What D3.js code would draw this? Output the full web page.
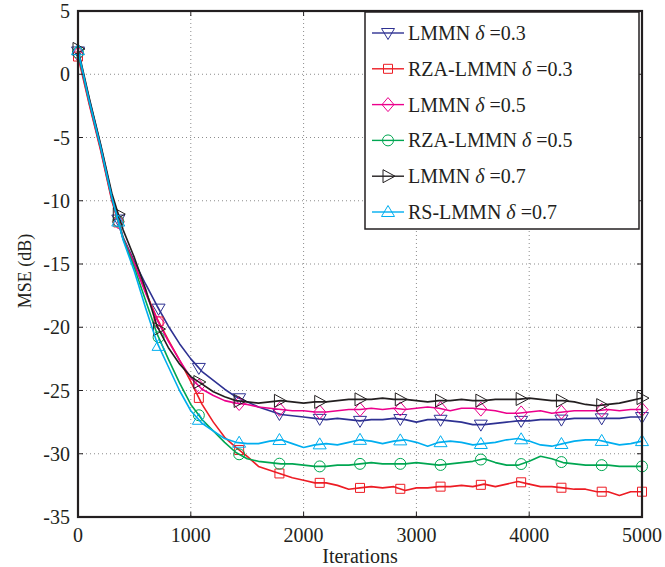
<!DOCTYPE html>
<html lang="en">
<head>
<meta charset="utf-8">
<title>MSE learning curves</title>
<script src="https://d3js.org/d3.v7.min.js"></script>
<style type="text/css">
body {
	margin: 0;
	background: #fff;
	font-family: "Liberation Serif", "Times New Roman", serif;
}
.tick-label {
	font-size: 20px;
	fill: #231f20;
}
.grid line {
	stroke: #8c8c8c;
	stroke-width: 1;
	stroke-dasharray: 1,3;
}
</style>
</head>
<body>
<script type="text/javascript">

// iterations sampled every 100 (0 .. 5000)
const iterations = d3.range(0, 5001, 100);

// MSE (dB)
const lmmn03 = [1.8, -2.0, -5.6, -9.6, -12.9, -14.8, -16.6, -18.3, -19.9, -21.3, -22.5, -23.5, -24.2, -24.9, -25.5, -25.9, -26.3, -26.6, -26.9, -27.0,
  -27.1, -27.2, -27.3, -27.2, -27.3, -27.4, -27.3, -27.3, -27.2, -27.3, -27.5, -27.3, -27.3, -27.4, -27.5, -27.7, -27.7, -27.6, -27.5, -27.4,
  -27.4, -27.3, -27.3, -27.3, -27.2, -27.2, -27.2, -27.2, -27.2, -27.1, -27.1];
const rza03 = [1.4, -2.4, -6.0, -10.0, -13.0, -15.0, -17.2, -19.3, -21.0, -22.6, -24.3, -26.1, -27.5, -28.7, -29.5, -30.2, -31.0, -31.3, -31.6, -31.9,
  -32.1, -32.3, -32.3, -32.5, -32.8, -32.7, -32.6, -32.7, -32.6, -32.9, -32.7, -32.7, -32.6, -32.6, -32.5, -32.6, -32.4, -32.6, -32.4, -32.2,
  -32.4, -32.6, -32.6, -32.7, -32.8, -32.8, -33.0, -33.0, -33.3, -33.0, -33.0];
const lmmn05 = [1.6, -2.3, -5.9, -9.9, -13.0, -15.0, -17.3, -19.4, -21.1, -22.6, -24.0, -24.9, -25.4, -25.8, -26.0, -26.1, -26.3, -26.4, -26.5, -26.6,
  -26.6, -26.7, -26.7, -26.6, -26.5, -26.5, -26.4, -26.5, -26.4, -26.5, -26.4, -26.3, -26.4, -26.6, -26.4, -26.4, -26.5, -26.6, -26.8, -26.8,
  -26.7, -26.6, -26.8, -26.7, -26.6, -26.6, -26.6, -26.5, -26.6, -26.5, -26.5];
const rza05 = [1.7, -2.2, -5.8, -9.8, -13.0, -15.3, -17.9, -20.5, -22.5, -24.4, -26.1, -27.3, -28.2, -29.1, -29.9, -30.4, -30.6, -30.7, -30.8, -30.8,
  -30.9, -31.0, -31.0, -30.9, -30.9, -30.8, -30.7, -30.8, -30.8, -30.8, -30.7, -30.8, -30.9, -30.8, -30.7, -30.6, -30.4, -30.7, -30.9, -30.9,
  -30.6, -30.2, -30.4, -30.7, -30.8, -30.9, -30.9, -30.9, -31.0, -31.0, -31.0];
const lmmn07 = [2.0, -1.9, -5.5, -9.4, -12.3, -14.5, -17.0, -19.9, -21.6, -22.9, -23.9, -24.5, -25.1, -25.5, -25.8, -25.9, -26.0, -25.9, -25.8, -25.9,
  -26.0, -25.9, -25.9, -25.8, -25.7, -25.7, -25.7, -25.6, -25.7, -25.7, -25.8, -25.9, -25.8, -25.8, -25.7, -25.8, -25.8, -25.7, -25.7, -25.7,
  -25.6, -25.7, -25.8, -25.8, -25.9, -26.1, -26.2, -26.1, -26.0, -25.8, -25.6];
const rs07 = [1.9, -2.1, -5.7, -9.7, -13.1, -15.6, -18.5, -21.2, -23.1, -25.0, -26.6, -27.6, -28.2, -28.8, -29.1, -29.2, -29.2, -29.0, -28.9, -29.2,
  -29.5, -29.3, -29.2, -29.3, -29.1, -28.9, -29.0, -29.2, -29.0, -28.9, -29.1, -29.4, -29.1, -29.0, -29.1, -29.3, -29.2, -29.1, -28.9, -28.8,
  -29.0, -29.3, -29.4, -29.2, -29.0, -28.9, -28.9, -29.1, -29.3, -29.2, -29.0];

const seriesNames = ["LMMN", "RZA-LMMN", "LMMN", "RZA-LMMN", "LMMN", "RS-LMMN"];
const deltas = ["0.3", "0.3", "0.5", "0.5", "0.7", "0.7"];
const seriesValues = [lmmn03, rza03, lmmn05, rza05, lmmn07, rs07];
const colors = ["#2e3192", "#ed1c24", "#ec008c", "#00a651", "#231f20", "#00aeef"];
const markerTypes = ["triDown", "square", "diamond", "circle", "triRight", "triUp"];

const xTicks = [0, 1000, 2000, 3000, 4000, 5000];
const yTicks = [5, 0, -5, -10, -15, -20, -25, -30, -35];
// markers every 5000/14 iterations
const markerIters = d3.range(0, 15).map(function(k) { return k * 5000 / 14; });

const width = 665;
const height = 567;
const plotLeft = 78, plotRight = 642, plotTop = 11, plotBottom = 517;

var x = d3.scaleLinear().domain([0, 5000]).range([plotLeft, plotRight]);
var y = d3.scaleLinear().domain([-35, 5]).range([plotBottom, plotTop]);

var svg = d3.select("body").append("svg")
	.attr("width", width)
	.attr("height", height);

// dotted grid
var grid = svg.append("g").attr("class", "grid");
grid.selectAll("line.gx")
	.data(xTicks.slice(1, -1))
	.enter().append("line")
	.attr("x1", d => x(d)).attr("x2", d => x(d))
	.attr("y1", plotTop).attr("y2", plotBottom);
grid.selectAll("line.gy")
	.data(yTicks.slice(1, -1))
	.enter().append("line")
	.attr("x1", plotLeft).attr("x2", plotRight)
	.attr("y1", d => y(d)).attr("y2", d => y(d));

// marker shapes, centred on 0,0
function markerPath(type) {
	switch (type) {
		case "triDown": return "M-6.5,-4.5L6.5,-4.5L0,6.5Z";
		case "triUp": return "M-6.5,4.5L6.5,4.5L0,-6.5Z";
		case "triRight": return "M-5,-6.5L-5,6.5L7,0Z";
		case "square": return "M-4.5,-4.5H4.5V4.5H-4.5Z";
		case "diamond": return "M0,-7L6,0L0,7L-6,0Z";
		case "circle": return d3.symbol().type(d3.symbolCircle).size(Math.PI * 30)();
	}
}

function valueAt(vals, it) {
	// position along the drawn polyline
	var i = Math.min(Math.floor(it / 100), iterations.length - 2);
	var t = (it - iterations[i]) / 100;
	return vals[i] + (vals[i + 1] - vals[i]) * t;
}

var line = d3.line()
	.x((d, i) => x(iterations[i]))
	.y(d => y(d));

var plot = svg.append("g");
seriesValues.forEach(function(vals, s) {
	var g = plot.append("g");
	g.append("path")
		.attr("d", line(vals))
		.attr("fill", "none")
		.attr("stroke", colors[s])
		.attr("stroke-width", 1.6)
		.attr("stroke-linejoin", "round");
	g.selectAll("path.mk")
		.data(markerIters)
		.enter().append("path")
		.attr("class", "mk")
		.attr("d", markerPath(markerTypes[s]))
		.attr("transform", d => "translate(" + x(d) + "," + y(valueAt(vals, d)) + ")")
		.attr("fill", "none")
		.attr("stroke", colors[s])
		.attr("stroke-width", 1);
});

// small inward ticks
var ticks = svg.append("g").attr("stroke", "#231f20").attr("stroke-width", 1);
xTicks.forEach(function(t) {
	ticks.append("line").attr("x1", x(t)).attr("x2", x(t)).attr("y1", plotBottom).attr("y2", plotBottom - 5);
	ticks.append("line").attr("x1", x(t)).attr("x2", x(t)).attr("y1", plotTop).attr("y2", plotTop + 5);
});
yTicks.forEach(function(t) {
	ticks.append("line").attr("x1", plotLeft).attr("x2", plotLeft + 5).attr("y1", y(t)).attr("y2", y(t));
	ticks.append("line").attr("x1", plotRight).attr("x2", plotRight - 5).attr("y1", y(t)).attr("y2", y(t));
});

// frame
svg.append("rect")
	.attr("x", plotLeft).attr("y", plotTop)
	.attr("width", plotRight - plotLeft).attr("height", plotBottom - plotTop)
	.attr("fill", "none")
	.attr("stroke", "#231f20")
	.attr("stroke-width", 2.2);

// tick labels
svg.append("g").selectAll("text")
	.data(xTicks)
	.enter().append("text")
	.attr("class", "tick-label")
	.attr("x", d => x(d))
	.attr("y", 542)
	.attr("text-anchor", "middle")
	.text(d => d);
svg.append("g").selectAll("text")
	.data(yTicks)
	.enter().append("text")
	.attr("class", "tick-label")
	.attr("x", 70)
	.attr("y", d => y(d))
	.attr("dy", "0.35em")
	.attr("text-anchor", "end")
	.text(d => d);

// axis titles
svg.append("text")
	.attr("x", (plotLeft + plotRight) / 2)
	.attr("y", 563)
	.attr("text-anchor", "middle")
	.style("font-size", "20px")
	.style("fill", "#231f20")
	.text("Iterations");
svg.append("text")
	.attr("transform", "translate(31,271) rotate(-90)")
	.attr("text-anchor", "middle")
	.style("font-size", "18px")
	.style("fill", "#231f20")
	.text("MSE (dB)");

// legend
var legend = svg.append("g");
legend.append("rect")
	.attr("x", 365).attr("y", 12)
	.attr("width", 274).attr("height", 217)
	.attr("fill", "#fff")
	.attr("stroke", "#231f20")
	.attr("stroke-width", 1.5);

seriesNames.forEach(function(name, s) {
	var cy = 33 + s * 35.8;
	var row = legend.append("g");
	row.append("line")
		.attr("x1", 372).attr("x2", 404)
		.attr("y1", cy).attr("y2", cy)
		.attr("stroke", colors[s])
		.attr("stroke-width", 1.4);
	row.append("path")
		.attr("d", markerPath(markerTypes[s]))
		.attr("transform", "translate(388," + cy + ")")
		.attr("fill", "none")
		.attr("stroke", colors[s])
		.attr("stroke-width", 1);
	var txt = row.append("text")
		.attr("x", 408)
		.attr("y", cy)
		.attr("dy", "0.35em")
		.style("font-size", "20px")
		.style("fill", "#231f20");
	txt.append("tspan").text(name + " ");
	txt.append("tspan").style("font-style", "italic").text("δ");
	txt.append("tspan").text(" =" + deltas[s]);
});

</script>
</body>
</html>
